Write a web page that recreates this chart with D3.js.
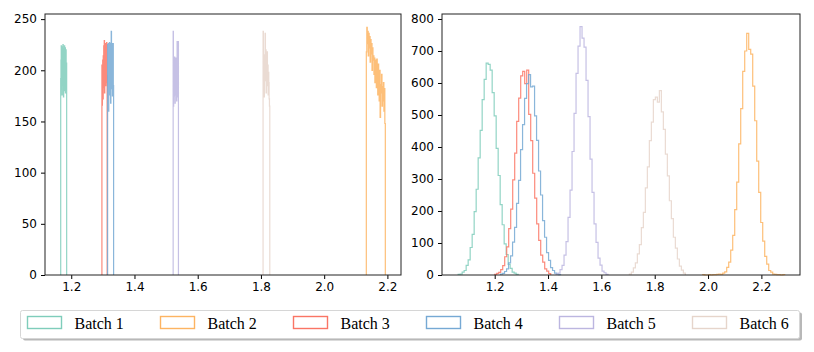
<!DOCTYPE html>
<html>
<head>
<meta charset="utf-8">
<script src="https://cdn.jsdelivr.net/npm/d3@7"></script>
<style>
  body { margin: 0; background: #fff; }
  .tick text { font-family: "DejaVu Sans", sans-serif; font-size: 12px; fill: #000; }
  .tick line { stroke: #000; }
</style>
</head>
<body>
<div id="Container"></div>
<script>
var batches = ["Batch 1", "Batch 2", "Batch 3", "Batch 4", "Batch 5", "Batch 6"];
var warna = ["#7fcdbb", "#fdb462", "#fa7565", "#76a9d4", "#bcb6e0", "#e6d5cb"];

// left panel: narrow histograms (bin range lo..hi, counts)
var leftLo = [1.1667, 2.1333, 1.297, 1.315, 1.5223, 1.8067];
var leftHi = [1.1855, 2.1934, 1.3135, 1.334, 1.539, 1.828];
var leftCounts = [
  [192, 210, 224, 182, 219, 176, 223, 205, 186, 225, 190, 174, 221, 208, 195, 224, 180, 212, 222, 178, 203, 220, 185, 207],
  [218, 242, 226, 238, 214, 236, 222, 233, 208, 230, 216, 226, 200, 222, 210, 214, 196, 212, 188, 210, 202, 183, 211, 192, 176, 206, 190, 170, 200, 154, 186, 178, 196, 165, 184, 170, 188, 160, 182, 148],
  [205, 166, 198, 210, 172, 214, 190, 224, 183, 229, 178, 218, 196, 226, 185, 220, 205, 188, 227, 195],
  [225, 172, 226, 160, 218, 190, 227, 176, 224, 205, 168, 226, 238, 182, 226, 199, 175, 221, 226, 185],
  [238, 165, 210, 182, 175, 213, 190, 168, 205, 180, 212, 176, 196, 170, 208, 228, 185, 222, 174, 228],
  [238, 180, 210, 174, 215, 190, 236, 200, 220, 178, 212, 196, 218, 185, 205, 176, 198, 188, 172, 165]
];

// right panel: wide histograms (first bin edge, counts), shared bin width
var binW = 0.0075;
var rightStart = [1.063, 1.98, 1.2, 1.222, 1.43, 1.705];
var rightCounts = [
  [2, 3, 9, 14, 30, 47, 86, 127, 198, 268, 366, 452, 548, 611, 662, 658, 640, 570, 497, 396, 311, 220, 157, 97, 64, 33, 21, 9, 6, 2],
  [1, 0, 0, 1, 0, 1, 1, 2, 3, 2, 6, 10, 24, 40, 78, 124, 204, 290, 410, 520, 636, 700, 755, 705, 690, 590, 482, 356, 258, 164, 106, 58, 34, 14, 9, 3, 2, 1, 1, 0, 1],
  [2, 5, 8, 17, 29, 57, 88, 145, 206, 297, 381, 480, 553, 622, 636, 598, 640, 502, 420, 318, 240, 160, 108, 62, 40, 19, 12, 4],
  [3, 5, 11, 19, 38, 60, 103, 149, 224, 296, 392, 470, 552, 598, 626, 588, 590, 497, 421, 325, 250, 170, 118, 70, 46, 23, 14, 6, 3, 1],
  [3, 6, 17, 30, 62, 104, 180, 265, 386, 505, 630, 715, 776, 740, 712, 608, 495, 362, 258, 160, 102, 53, 31, 12, 7, 2],
  [3, 9, 22, 38, 66, 95, 148, 196, 272, 338, 420, 478, 548, 556, 540, 576, 510, 455, 378, 310, 232, 176, 118, 84, 50, 28, 15, 6]
];

var xTicks = [1.2, 1.4, 1.6, 1.8, 2.0, 2.2];
var yTicksLeft = [0, 50, 100, 150, 200, 250];
var yTicksRight = [0, 100, 200, 300, 400, 500, 600, 700, 800];

var W = 814, H = 352;
var canvas = d3.select("#Container").append("svg")
    .attr("width", W)
    .attr("height", H);

function panel(box, xDom, yDom, yTicks, edgesOf, countsOf) {
    var x = d3.scaleLinear().domain(xDom).range([box.x0, box.x1]);
    var y = d3.scaleLinear().domain(yDom).range([box.y1, box.y0]);

    var g = canvas.append("g");
    var line = d3.line().x(function (d) { return x(d[0]); }).y(function (d) { return y(d[1]); });

    batches.forEach(function (b, k) {
        var c = countsOf(k);
        var e = edgesOf(k);
        var pts = [[e[0], 0]];
        c.forEach(function (v, i) {
            pts.push([e[i], v]);
            pts.push([e[i + 1], v]);
        });
        pts.push([e[c.length], 0]);
        g.append("path")
            .attr("d", line(pts))
            .attr("fill", "none")
            .attr("stroke", warna[k])
            .attr("stroke-width", 1.2)
            .attr("stroke-opacity", 0.85);
    });

    canvas.append("g")
        .attr("transform", "translate(0," + box.y1 + ")")
        .call(d3.axisBottom(x).tickValues(xTicks).tickFormat(d3.format(".1f")).tickSize(4).tickPadding(3))
        .call(function (a) { a.select(".domain").remove(); });

    canvas.append("g")
        .attr("transform", "translate(" + box.x0 + ",0)")
        .call(d3.axisLeft(y).tickValues(yTicks).tickSize(4).tickPadding(4))
        .call(function (a) { a.select(".domain").remove(); });

    canvas.append("rect")
        .attr("x", box.x0).attr("y", box.y0)
        .attr("width", box.x1 - box.x0).attr("height", box.y1 - box.y0)
        .attr("fill", "none")
        .attr("stroke", "#222")
        .attr("stroke-width", 1);
}

panel({ x0: 45, x1: 401, y0: 14, y1: 275 }, [1.117, 2.243], [0, 255], yTicksLeft,
    function (k) {
        var n = leftCounts[k].length;
        var s = d3.scaleLinear().domain([0, n]).range([leftLo[k], leftHi[k]]);
        return d3.range(n + 1).map(s);
    },
    function (k) { return leftCounts[k]; });

panel({ x0: 442, x1: 800, y0: 14, y1: 275 }, [1.0024, 2.3448], [0, 815.6], yTicksRight,
    function (k) {
        return d3.range(rightCounts[k].length + 1).map(function (i) { return rightStart[k] + i * binW; });
    },
    function (k) { return rightCounts[k]; });

// legend
var leg = canvas.append("g");
leg.append("rect")
    .attr("x", 23).attr("y", 312.5)
    .attr("width", 779).attr("height", 28)
    .attr("rx", 2)
    .attr("fill", "#888")
    .attr("opacity", 0.6);
leg.append("rect")
    .attr("x", 20.5).attr("y", 310.5)
    .attr("width", 779).attr("height", 28)
    .attr("rx", 2)
    .attr("fill", "#fff")
    .attr("stroke", "#d6d6d6")
    .attr("stroke-width", 1);

var lx = d3.scaleLinear().domain([0, 5]).range([27, 692]);
batches.forEach(function (b, k) {
    leg.append("rect")
        .attr("x", lx(k) + 0.5).attr("y", 316.5)
        .attr("width", 34).attr("height", 12)
        .attr("fill", "none")
        .attr("stroke", warna[k])
        .attr("stroke-width", 1.4);
    leg.append("text")
        .attr("x", lx(k) + 47.5)
        .attr("y", 328.5)
        .attr("font-family", "'Liberation Serif', serif")
        .attr("font-size", 16)
        .text(b);
});
</script>
</body>
</html>
